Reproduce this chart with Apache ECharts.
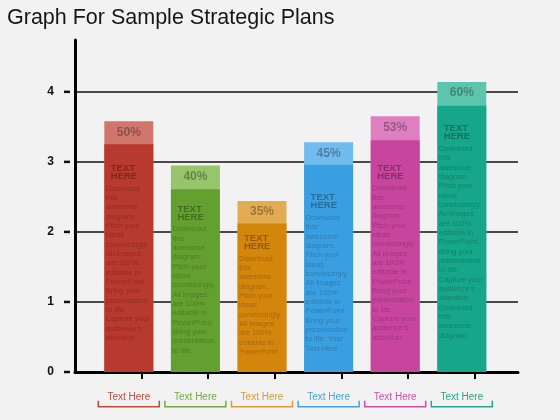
<!DOCTYPE html>
<html>
<head>
<meta charset="utf-8">
<script src="https://cdn.jsdelivr.net/npm/echarts@6/dist/echarts.min.js"></script>
<style>
html,body{margin:0;padding:0;background:#f2f2f2;}
#chart{width:560px;height:420px;}
</style>
</head>
<body>
<div id="chart"></div>
<script>
// ---- data ----
const titleText = 'Graph For Sample Strategic Plans';
const categories = ['Text Here', 'Text Here', 'Text Here', 'Text Here', 'Text Here', 'Text Here'];
const barPositions = [0, 1, 2, 3, 4, 5];
const percentLabels = ['50%', '40%', '35%', '45%', '53%', '60%'];
const barTops = [3.58, 2.95, 2.44, 3.28, 3.65, 4.14];
const capBottoms = [3.25, 2.61, 2.12, 2.96, 3.31, 3.80];
const yTicks = [0, 1, 2, 3, 4];
const xTickPositions = [0.19, 1.19, 2.19, 3.19, 4.19, 5.19];
const headingLines = ['TEXT', 'HERE'];
const baseLines = ['Download', 'this', 'awesome', 'diagram.', 'Pitch your', 'ideas', 'convincingly.', 'All images', 'are 100%', 'editable in', 'PowerPoint.'];
const barTextLines = [
  baseLines.concat(['Bring your', 'presentation', 'to life.', 'Capture your', "audience's", 'attention.']),
  baseLines.concat(['Bring your', 'presentation', 'to life.']),
  baseLines.slice(),
  baseLines.concat(['Bring your', 'presentation', 'to life. Your', 'Text Here .']),
  baseLines.concat(['Bring your', 'presentation', 'to life.', 'Capture your', "audience's", 'attention.']),
  baseLines.concat(['Bring your', 'presentation', 'to life.', 'Capture your', "audience's", 'attention.', 'Download', 'this', 'awesome', 'diagram.'])
];

// ---- styles ----
const FONT = '"Liberation Sans", Arial, Helvetica, sans-serif';
const barColors = ['#b8392d', '#63a02f', '#d3850c', '#3a9fe1', '#c8459d', '#16a689'];
const capColors = ['#d0776d', '#97c56b', '#e3ab52', '#72bbee', '#de80c0', '#5dc5ad'];
const labelColors = ['#bf4a40', '#72aa40', '#dc9a35', '#45a3e3', '#cc4fa6', '#25a68c'];
const textOffsets = [18.5, 14.5, 9.5, 27.5, 22.5, 17.5];

const chart = echarts.init(document.getElementById('chart'), null, {renderer: 'canvas'});

function buildText(i) {
  let s = '{h|' + headingLines[0] + '}\n{h2|' + headingLines[1] + '}';
  barTextLines[i].forEach(function (l) { s += '\n{p|' + l + '}'; });
  return s;
}

const option = {
  backgroundColor: '#f2f2f2',
  animation: false,
  textStyle: {fontFamily: FONT},
  title: {
    text: titleText,
    left: 7,
    top: 7,
    padding: 0,
    textStyle: {fontSize: 21.5, fontWeight: 'normal', color: '#161616', fontFamily: FONT}
  },
  grid: {left: 75, right: 42, top: 40, bottom: 48, containLabel: false},
  xAxis: {
    type: 'value',
    min: -0.808,
    max: 5.844,
    splitLine: {show: false},
    axisLine: {show: true, onZero: false, lineStyle: {color: '#000', width: 3}},
    axisTick: {show: true, customValues: xTickPositions, length: 7, lineStyle: {color: '#000', width: 2}},
    axisLabel: {
      customValues: barPositions,
      margin: 20,
      fontSize: 10,
      fontFamily: FONT,
      formatter: function (v) { return categories[Math.round(v)]; },
      color: function (v) { return labelColors[Math.round(v)]; }
    }
  },
  yAxis: {
    type: 'value',
    min: 0,
    max: 4.74,
    interval: 1,
    axisLine: {show: true, onZero: false, lineStyle: {color: '#000', width: 3}},
    axisTick: {show: false, customValues: yTicks},
    splitLine: {show: true, lineStyle: {color: '#111', width: 1.5}},
    axisLabel: {
      customValues: yTicks,
      margin: 5,
      formatter: function (v) { return '{n|' + v + '}{s|}{d|}'; },
      rich: {
        n: {fontSize: 12, fontWeight: 'bold', color: '#111', fontFamily: FONT, verticalAlign: 'middle'},
        s: {width: 10, height: 2, verticalAlign: 'middle'},
        d: {width: 6, height: 2.5, backgroundColor: '#111', verticalAlign: 'middle'}
      }
    }
  },
  series: [
    {
      type: 'bar',
      name: 'cap',
      barWidth: 49,
      barGap: '-100%',
      data: barTops.map(function (v, i) {
        return {value: [barPositions[i], v], itemStyle: {color: capColors[i]}};
      }),
      label: {
        show: true,
        position: 'insideTop',
        distance: 5,
        fontSize: 12,
        fontWeight: 'bold',
        fontFamily: FONT,
        color: 'rgba(0,0,0,0.33)',
        formatter: function (p) { return percentLabels[p.dataIndex]; }
      },
      z: 2
    },
    {
      type: 'bar',
      name: 'base',
      barWidth: 49,
      barGap: '-100%',
      data: capBottoms.map(function (v, i) {
        return {
          value: [barPositions[i], v],
          itemStyle: {color: barColors[i]},
          label: {offset: [1.5, textOffsets[i]]}
        };
      }),
      label: {
        show: true,
        position: 'insideTopLeft',
        distance: 0,
        align: 'left',
        formatter: function (p) { return buildText(p.dataIndex); },
        rich: {
          h: {fontSize: 9.5, fontWeight: 'bold', lineHeight: 10.5, padding: [0, 0, 0, 5], color: 'rgba(0,0,0,0.32)', fontFamily: FONT},
          h2: {fontSize: 9.5, fontWeight: 'bold', lineHeight: 10.5, padding: [0, 0, 4.5, 5], color: 'rgba(0,0,0,0.32)', fontFamily: FONT},
          p: {fontSize: 7.6, lineHeight: 9.33, color: 'rgba(0,0,0,0.22)', fontFamily: FONT}
        }
      },
      z: 3
    },
    {
      type: 'custom',
      name: 'brackets',
      clip: false,
      silent: true,
      data: barPositions.map(function (x) { return [x, 0]; }),
      renderItem: function (params, api) {
        const p = api.coord([api.value(0), api.value(1)]);
        const i = params.dataIndex;
        const half = 30.5;
        return {
          type: 'polyline',
          shape: {points: [[p[0] - half, p[1] + 28.7], [p[0] - half, p[1] + 34.7], [p[0] + half, p[1] + 34.7], [p[0] + half, p[1] + 28.7]]},
          style: {stroke: labelColors[i], lineWidth: 1.5, fill: null}
        };
      },
      z: 4
    }
  ]
};
chart.setOption(option);
</script>
</body>
</html>
